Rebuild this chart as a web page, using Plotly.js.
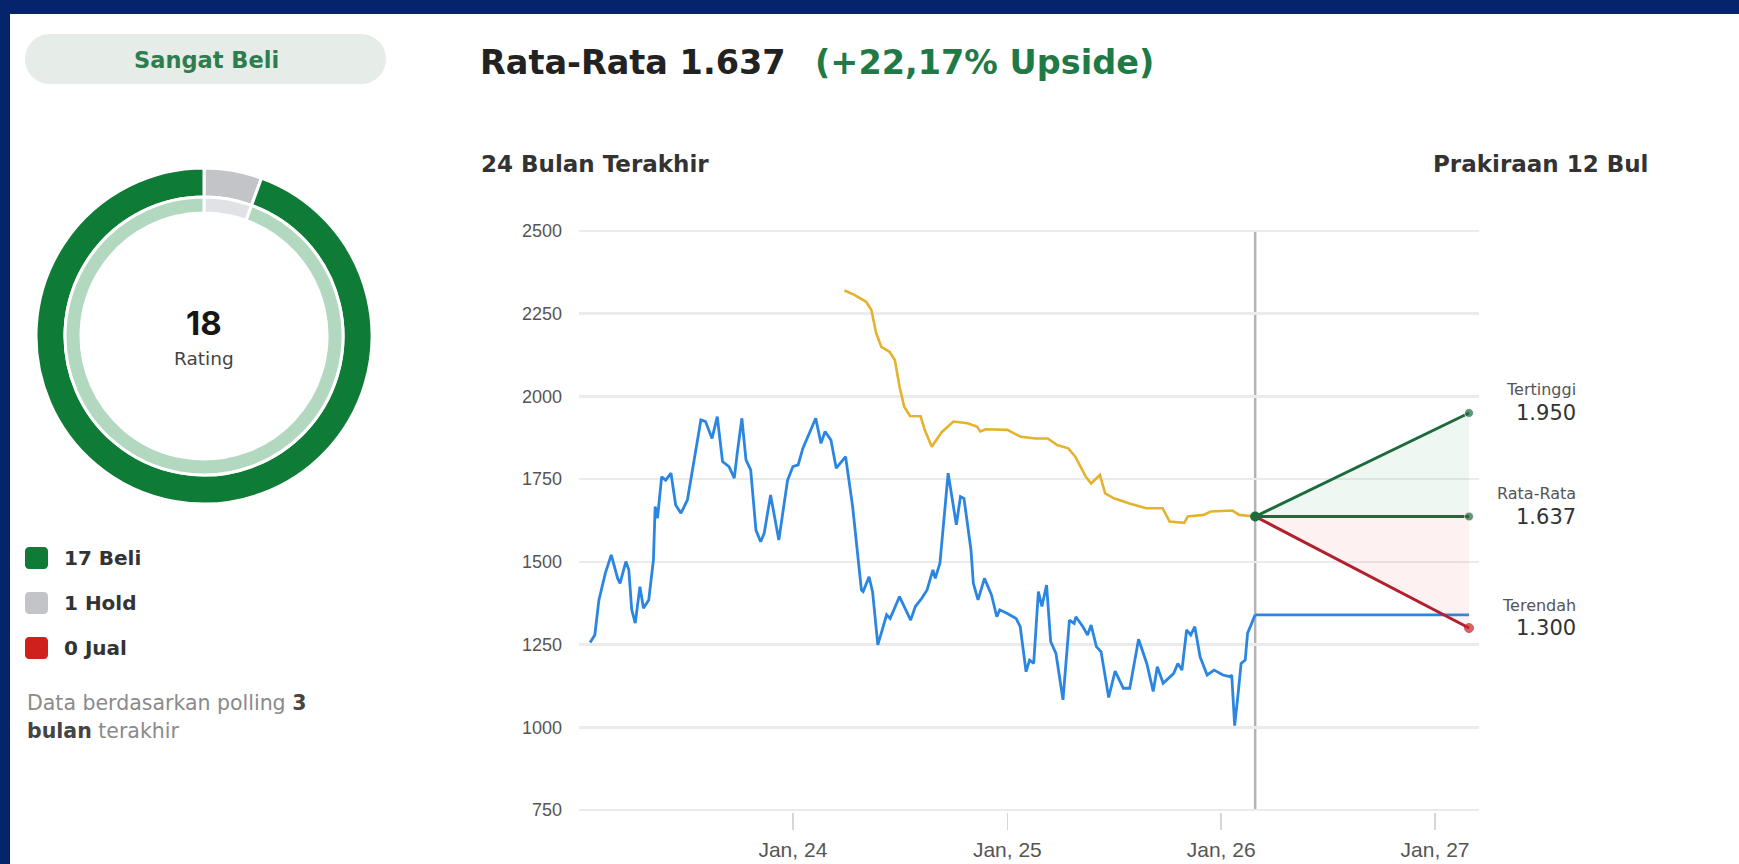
<!DOCTYPE html>
<html>
<head>
<meta charset="utf-8">
<script src="https://cdn.plot.ly/plotly-3.0.1.min.js"></script>
<style>
  html, body { margin: 0; padding: 0; background: #ffffff; }
  #chart { width: 1739px; height: 864px; }
</style>
</head>
<body>
<div id="chart"></div>
<script>
// ---------------- DATA ----------------
const ratingLabels = ['Beli', 'Hold', 'Jual'];
const ratingCounts = [17, 1, 0];
const totalRatings = 18;

const priceDates = ['2023-01-20','2023-01-28','2023-02-04','2023-02-15','2023-02-25','2023-03-08','2023-03-12','2023-03-22','2023-03-27','2023-04-01','2023-04-07','2023-04-15','2023-04-21','2023-04-30','2023-05-08','2023-05-11','2023-05-15','2023-05-22','2023-05-29','2023-06-07','2023-06-15','2023-06-24','2023-07-05','2023-07-19','2023-07-28','2023-08-05','2023-08-16','2023-08-25','2023-09-03','2023-09-14','2023-09-23','2023-09-28','2023-10-06','2023-10-13','2023-10-21','2023-10-30','2023-11-07','2023-11-13','2023-11-24','2023-12-08','2023-12-23','2024-01-01','2024-01-10','2024-01-18','2024-01-29','2024-02-09','2024-02-18','2024-02-25','2024-03-06','2024-03-15','2024-03-31','2024-04-12','2024-04-27','2024-04-30','2024-05-10','2024-05-16','2024-05-25','2024-05-31','2024-06-09','2024-06-15','2024-07-01','2024-07-20','2024-07-28','2024-08-08','2024-08-17','2024-08-27','2024-08-31','2024-09-08','2024-09-15','2024-09-22','2024-10-06','2024-10-13','2024-10-19','2024-10-31','2024-11-04','2024-11-12','2024-11-23','2024-12-05','2024-12-14','2024-12-19','2025-01-01','2025-01-16','2025-01-23','2025-02-02','2025-02-08','2025-02-15','2025-02-23','2025-03-01','2025-03-09','2025-03-16','2025-03-25','2025-04-06','2025-04-17','2025-04-25','2025-04-28','2025-05-10','2025-05-18','2025-05-24','2025-06-02','2025-06-10','2025-06-23','2025-07-04','2025-07-18','2025-07-29','2025-08-13','2025-08-27','2025-09-07','2025-09-14','2025-09-24','2025-10-05','2025-10-12','2025-10-19','2025-10-26','2025-11-03','2025-11-10','2025-11-17','2025-11-26','2025-12-08','2025-12-20','2026-01-04','2026-01-16','2026-01-19','2026-01-24','2026-01-30','2026-02-04','2026-02-11','2026-02-15','2026-02-22','2026-02-28'];
const priceValues = [1256,1279,1385,1466,1521,1450,1435,1501,1476,1355,
  1315,1425,1360,1385,1505,1667,1632,1757,1747,1768,
  1672,1647,1687,1828,1929,1924,1873,1939,1803,1788,
  1753,1828,1934,1808,1778,1596,1561,1586,1702,1566,
  1747,1788,1793,1843,1889,1934,1858,1894,1868,1783,
  1818,1667,1415,1410,1455,1410,1249,1284,1340,1329,
  1395,1324,1365,1390,1415,1476,1450,1496,1627,1768,
  1612,1697,1692,1536,1435,1385,1450,1400,1334,1355,
  1344,1329,1304,1168,1203,1193,1410,1365,1430,1259,
  1223,1083,1324,1314,1334,1304,1279,1309,1244,1228,
  1090,1170,1118,1118,1266,1193,1108,1183,1133,1153,
  1163,1193,1173,1294,1279,1304,1213,1158,1173,1158,
  1153,1158,1005,1103,1193,1203,1284,1314,1340];

const targetDates = ['2024-03-29','2024-04-15','2024-05-05','2024-05-14','2024-05-22','2024-05-31','2024-06-14','2024-06-23','2024-07-01','2024-07-09','2024-07-19','2024-08-06','2024-08-13','2024-08-25','2024-09-11','2024-10-01','2024-10-25','2024-11-10','2024-11-16','2024-11-25','2025-01-01','2025-01-24','2025-02-18','2025-03-11','2025-03-27','2025-04-15','2025-04-27','2025-05-15','2025-05-24','2025-06-08','2025-06-17','2025-07-02','2025-07-27','2025-08-26','2025-09-23','2025-10-05','2025-10-30','2025-11-05','2025-12-02','2025-12-14','2026-01-20','2026-02-01','2026-02-28'];
const targetValues = [2320,2307,2286,2261,2192,2150,2135,2110,2030,1969,
  1941,1940,1899,1848,1892,1924,1919,1909,1894,1901,
  1899,1878,1873,1873,1853,1843,1818,1757,1737,1763,
  1707,1692,1677,1662,1662,1622,1618,1637,1642,1652,
  1655,1642,1637];

const forecastDates = ['2026-02-28', '2027-02-28'];
const currentPrice = 1340;
const highTarget = 1950;
const avgTarget = 1637;
const lowTarget = 1300;

const yTickValues = [750, 1000, 1250, 1500, 1750, 2000, 2250, 2500];
const yTickLabels = ['750', '1000', '1250', '1500', '1750', '2000', '2250', '2500'];
const xTickValues = ['2024-01-01', '2025-01-01', '2026-01-01', '2027-01-01'];
const xTickLabels = ['Jan, 24', 'Jan, 25', 'Jan, 26', 'Jan, 27'];
const xRange = ['2023-01-01', '2027-03-17'];
const yRange = [745, 2505];

const upsidePct = '+22,17%';
const fmt = v => String(v).replace(/\B(?=(\d{3})+(?!\d))/g, '.');

// ---------------- LAYOUT HELPERS ----------------
const W = 1739, H = 864;
const px = x => x / W;
const py = y => 1 - y / H;

function roundRectPath(x0, y0, x1, y1, r) {
  const k = 0.5523 * r;
  const P = (x, y) => px(x).toFixed(6) + ',' + py(y).toFixed(6);
  return 'M' + P(x0 + r, y0) +
    ' L' + P(x1 - r, y0) +
    ' C' + P(x1 - r + k, y0) + ' ' + P(x1, y0 + r - k) + ' ' + P(x1, y0 + r) +
    ' L' + P(x1, y1 - r) +
    ' C' + P(x1, y1 - r + k) + ' ' + P(x1 - r + k, y1) + ' ' + P(x1 - r, y1) +
    ' L' + P(x0 + r, y1) +
    ' C' + P(x0 + r - k, y1) + ' ' + P(x0, y1 - r + k) + ' ' + P(x0, y1 - r) +
    ' L' + P(x0, y0 + r) +
    ' C' + P(x0, y0 + r - k) + ' ' + P(x0 + r - k, y0) + ' ' + P(x0 + r, y0) + ' Z';
}

// plot area in pixels
const plotLeft = 579, plotRight = 1479;
const yPix = v => 231 + (2500 - v) * (579 / 1750);
const plotTop = yPix(yRange[1]), plotBottom = yPix(yRange[0]);

// ring geometry
const ringCx = 204, ringCy = 336, ringOuter = 168, ringMid = 139, ringInner = 123;

// colours
const C = {
  navy: '#05246a',
  green: '#0e7c37', greenLight: '#b3d8c0',
  grey: '#c2c4c8', greyLight: '#e0e2e6',
  red: '#d0201c',
  blue: '#2b86e2', gold: '#e4b22c',
  fGreen: '#1d6b3c', fRed: '#b1202e'
};
const ratingColors = [C.green, C.grey, C.red];
const ratingColorsLight = [C.greenLight, C.greyLight, '#f3b3b3'];

// pie slices (Hold first so it sits just right of 12 o'clock)
const pieOrder = [1, 0, 2].filter(i => ratingCounts[i] > 0);

const traces = [];
traces.push({
  type: 'pie', values: pieOrder.map(i => ratingCounts[i]), labels: pieOrder.map(i => ratingLabels[i]),
  marker: { colors: pieOrder.map(i => ratingColors[i]), line: { color: '#ffffff', width: 3 } },
  hole: ringMid / ringOuter, sort: false, direction: 'clockwise', rotation: 0,
  textinfo: 'none', hoverinfo: 'skip', showlegend: false,
  domain: { x: [px(ringCx - ringOuter), px(ringCx + ringOuter)], y: [py(ringCy + ringOuter), py(ringCy - ringOuter)] }
});
traces.push({
  type: 'pie', values: pieOrder.map(i => ratingCounts[i]), labels: pieOrder.map(i => ratingLabels[i]),
  marker: { colors: pieOrder.map(i => ratingColorsLight[i]), line: { color: '#ffffff', width: 3 } },
  hole: ringInner / ringMid, sort: false, direction: 'clockwise', rotation: 0,
  textinfo: 'none', hoverinfo: 'skip', showlegend: false,
  domain: { x: [px(ringCx - ringMid), px(ringCx + ringMid)], y: [py(ringCy + ringMid), py(ringCy - ringMid)] }
});

// price history
traces.push({ type: 'scatter', mode: 'lines', x: priceDates, y: priceValues,
  line: { color: C.blue, width: 2.8 }, hoverinfo: 'skip', showlegend: false });
// current price carried forward
traces.push({ type: 'scatter', mode: 'lines', x: forecastDates, y: [currentPrice, currentPrice],
  line: { color: C.blue, width: 2.8 }, hoverinfo: 'skip', showlegend: false });
// average target history
traces.push({ type: 'scatter', mode: 'lines', x: targetDates, y: targetValues,
  line: { color: C.gold, width: 2.6 }, hoverinfo: 'skip', showlegend: false });
// forecast fan
traces.push({ type: 'scatter', mode: 'lines+markers', x: forecastDates, y: [avgTarget, highTarget],
  line: { color: C.fGreen, width: 3 }, marker: { size: [0, 9], color: C.fGreen },
  hoverinfo: 'skip', showlegend: false });
traces.push({ type: 'scatter', mode: 'lines+markers', x: forecastDates, y: [avgTarget, avgTarget],
  line: { color: C.fGreen, width: 3 }, marker: { size: [0, 9], color: C.fGreen },
  fill: 'tonexty', fillcolor: 'rgba(40,150,80,0.08)', hoverinfo: 'skip', showlegend: false });
traces.push({ type: 'scatter', mode: 'lines+markers', x: forecastDates, y: [avgTarget, lowTarget],
  line: { color: C.fRed, width: 3 }, marker: { size: [0, 9], color: '#d01f1f' },
  fill: 'tonexty', fillcolor: 'rgba(225,90,80,0.08)', hoverinfo: 'skip', showlegend: false });
traces.push({ type: 'scatter', mode: 'markers', x: [forecastDates[0]], y: [avgTarget],
  marker: { size: 10, color: C.fGreen }, hoverinfo: 'skip', showlegend: false });

// ---------------- SHAPES ----------------
const shapes = [
  { type: 'rect', xref: 'paper', yref: 'paper', x0: 0, x1: 1, y0: py(14), y1: 1, fillcolor: C.navy, line: { width: 0 } },
  { type: 'rect', xref: 'paper', yref: 'paper', x0: 0, x1: px(10), y0: 0, y1: 1, fillcolor: C.navy, line: { width: 0 } },
  { type: 'path', xref: 'paper', yref: 'paper', path: roundRectPath(25, 34, 386, 84, 25), fillcolor: '#e6ece8', line: { width: 0 }, layer: 'below' },
  { type: 'line', xref: 'x', yref: 'y', x0: forecastDates[0], x1: forecastDates[0], y0: yTickValues[0], y1: yTickValues[yTickValues.length - 1],
    line: { color: '#b4b4b4', width: 2.5 }, layer: 'below' }
];
const legendY = [558, 603, 648];
ratingLabels.forEach((l, i) => {
  shapes.push({ type: 'path', xref: 'paper', yref: 'paper', path: roundRectPath(25, legendY[i] - 11, 48, legendY[i] + 11, 4),
    fillcolor: ratingColors[i], line: { width: 0 } });
});

// ---------------- ANNOTATIONS ----------------
const A = (text, x, y, opts) => Object.assign({ text, x: px(x), y: py(y), xref: 'paper', yref: 'paper',
  showarrow: false, xanchor: 'left', yanchor: 'middle' }, opts || {});
const fD = 'DejaVu Sans, sans-serif';
const fI = 'Inter, Roboto, sans-serif';
const annotations = [
  A('Sangat Beli', 206, 60, { xanchor: 'center', font: { family: fD, size: 22.5, color: '#2e7d4e', weight: 700 } }),
  A(String(totalRatings), ringCx, 323, { xanchor: 'center', font: { family: fI, size: 33, color: '#161616', weight: 700 } }),
  A('Rating', ringCx, 358, { xanchor: 'center', font: { family: fD, size: 18.5, color: '#444' } }),
  A('Rata-Rata ' + fmt(avgTarget), 478, 63, { font: { family: fD, size: 33.5, color: '#222', weight: 700 } }),
  A('(' + upsidePct + ' Upside)', 813, 63, { font: { family: fD, size: 33.5, color: '#1f7a45', weight: 700 } }),
  A('24 Bulan Terakhir', 479, 164, { font: { family: fD, size: 23, color: '#333', weight: 700 } }),
  A('Prakiraan 12 Bul', 1431, 164, { font: { family: fD, size: 23, color: '#333', weight: 700 } }),
  A('Data berdasarkan polling <b><span style="color:#444">3</span></b>', 25, 703, { font: { family: fD, size: 20.5, color: '#8a8a8a' } }),
  A('<b><span style="color:#444">bulan</span></b> terakhir', 25, 731, { font: { family: fD, size: 20.5, color: '#8a8a8a' } })
];
ratingLabels.forEach((l, i) => {
  annotations.push(A(ratingCounts[i] + ' ' + l, 62, legendY[i], { font: { family: fD, size: 20, color: '#333', weight: 700 } }));
});
const sideLabels = [['Tertinggi', highTarget], ['Rata-Rata', avgTarget], ['Terendah', lowTarget]];
sideLabels.forEach(([lab, v]) => {
  annotations.push({ text: lab, xref: 'paper', yref: 'y', x: px(1578), y: v, yshift: 23, xanchor: 'right', yanchor: 'middle',
    showarrow: false, font: { family: fD, size: 16, color: '#555' } });
  annotations.push({ text: fmt(v), xref: 'paper', yref: 'y', x: px(1578), y: v, xanchor: 'right', yanchor: 'middle',
    showarrow: false, font: { family: fD, size: 21, color: '#333' } });
});

const layout = {
  width: W, height: H,
  margin: { l: 0, r: 0, t: 0, b: 0 },
  paper_bgcolor: '#ffffff', plot_bgcolor: 'rgba(0,0,0,0)',
  showlegend: false,
  xaxis: {
    type: 'date', range: xRange, domain: [px(plotLeft), px(plotRight)],
    tickvals: xTickValues, ticktext: xTickLabels,
    tickfont: { family: 'Liberation Sans, Arial, sans-serif', size: 21, color: '#555' },
    ticks: 'outside', ticklen: 17, tickwidth: 1.5, tickcolor: '#d6d6d6', ticklabelstandoff: 2,
    showgrid: false, zeroline: false, showline: false, fixedrange: true
  },
  yaxis: {
    range: yRange, domain: [py(plotBottom), py(plotTop)],
    tickvals: yTickValues, ticktext: yTickLabels,
    tickfont: { family: 'Liberation Sans, Arial, sans-serif', size: 18, color: '#555' },
    ticks: '', ticklabelstandoff: 16,
    showgrid: true, gridcolor: '#ebebeb', gridwidth: 2.5, zeroline: false, showline: false, fixedrange: true
  },
  shapes, annotations
};

Plotly.newPlot('chart', traces, layout, { staticPlot: true, displayModeBar: false });
</script>
</body>
</html>
